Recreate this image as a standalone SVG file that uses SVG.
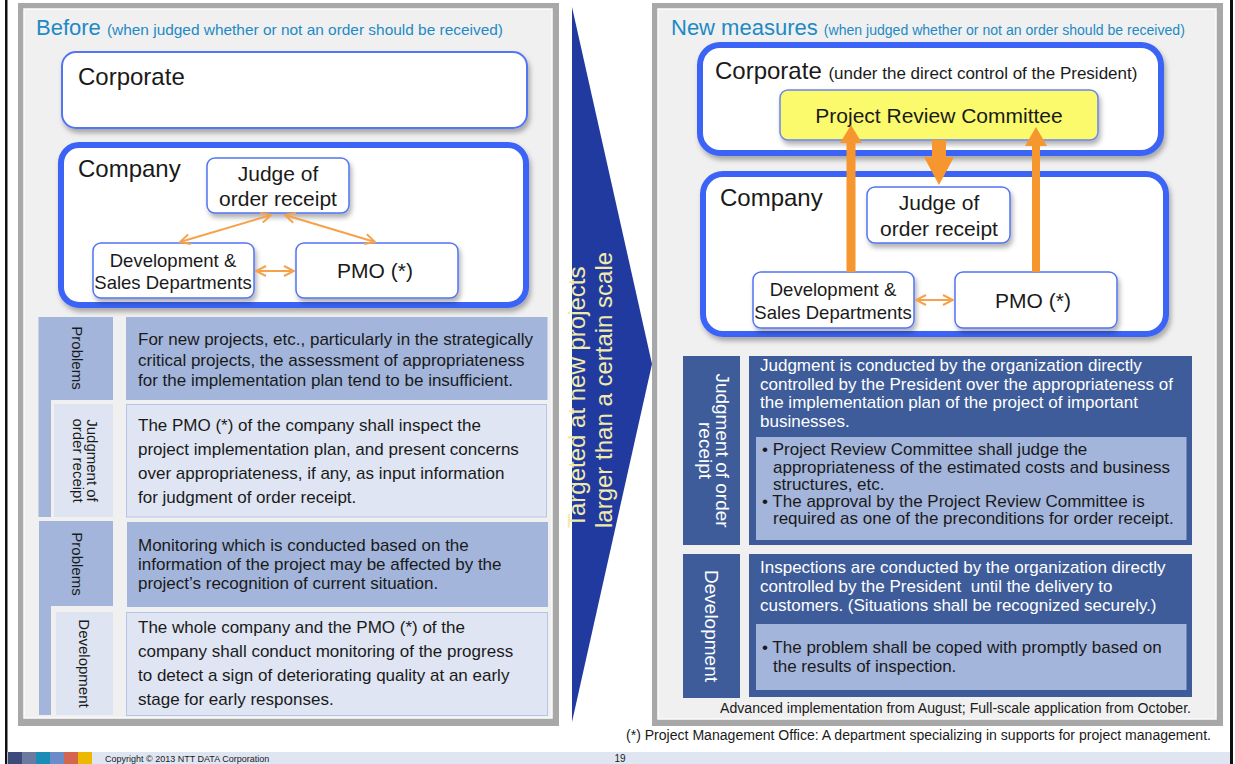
<svg xmlns="http://www.w3.org/2000/svg" width="1235" height="764" viewBox="0 0 1235 764">
  <defs>
    <style>
      text { font-family: "Liberation Sans", Arial, sans-serif; fill: #1a1a1a; }
      .title { fill: #1d8ac5; font-size: 22px; }
      .sub { fill: #1d8ac5; }
      .org { fill: #fff; stroke: #5274f2; stroke-width: 2; }
      .orgThick { fill: #fff; stroke: #3b63f5; stroke-width: 6; }
      .unit { fill: #fff; stroke: #5274f2; stroke-width: 1.5; }
      .head { font-size: 24px; }
      .unitTxt { font-size: 21px; text-anchor: middle; }
      .deptTxt { font-size: 18.5px; text-anchor: middle; }
      .body { font-size: 17px; }
      .tabTxt { font-size: 15px; text-anchor: middle; }
      .tabW { font-size: 19px; text-anchor: middle; fill: #fff; }
      .wTxt { font-size: 17px; fill: #fff; }
      .midBox { fill: #a3b5da; }
      .lightBox { fill: #dfe5f2; stroke: #b5c5e6; stroke-width: 1; }
      .lightTab { fill: #dee4f1; }
      .darkBox { fill: #3e5c99; }
      .innerBox { fill: #a3b5db; }
      .link { fill: none; stroke: #f5a24a; stroke-width: 2; marker-start: url(#vhead); marker-end: url(#vhead); }
      .bold { fill: #f6962e; }
    </style>
    <marker id="vhead" viewBox="0 0 12 12" refX="11" refY="6" markerWidth="12" markerHeight="12" markerUnits="userSpaceOnUse" orient="auto-start-reverse">
      <path d="M1,1 L11,6 L1,11" fill="none" stroke="#f5a24a" stroke-width="2"/>
    </marker>
    <filter id="shadow" x="-5%" y="-10%" width="110%" height="125%">
      <feDropShadow dx="2" dy="4" stdDeviation="2.5" flood-color="#000" flood-opacity="0.3"/>
    </filter>
  </defs>

  <!-- page frame -->
  <rect x="0" y="0" width="1235" height="764" fill="#fff"/>
  <rect x="5" y="0" width="2.5" height="764" fill="#111"/>
  <rect x="1230" y="0" width="3" height="764" fill="#111"/>

  <!-- left panel: current process -->
  <g id="panel-before">
    <rect x="18" y="3" width="541" height="723" fill="#a8a8a8"/>
    <rect x="24" y="9" width="528" height="709" fill="#f0f0f0" stroke="#fbfbfb" stroke-width="1.5"/>
    <text x="36" y="35" class="title">Before <tspan class="sub" font-size="15" textLength="396" lengthAdjust="spacingAndGlyphs">(when judged whether or not an order should be received)</tspan></text>
  </g>

  <g id="before-corporate">
    <rect x="62" y="52" width="465" height="76" rx="14" class="org" filter="url(#shadow)"/>
    <text x="78" y="85" class="head">Corporate</text>
  </g>

  <g id="before-company">
    <rect x="61" y="145" width="465" height="160" rx="18" class="orgThick" filter="url(#shadow)"/>
    <text x="78" y="177" class="head">Company</text>
  </g>

  <g id="before-judge">
    <rect x="207" y="158" width="142" height="55" rx="8" class="unit" filter="url(#shadow)"/>
    <text x="278" y="181" class="unitTxt">Judge of</text>
    <text x="278" y="206" class="unitTxt">order receipt</text>
  </g>

  <g id="before-dev">
    <rect x="93" y="243" width="161" height="55" rx="8" class="unit" filter="url(#shadow)"/>
    <text x="173" y="267" class="deptTxt">Development &amp;</text>
    <text x="173" y="289" class="deptTxt">Sales Departments</text>
  </g>

  <g id="before-pmo">
    <rect x="296" y="243" width="162" height="55" rx="8" class="unit" filter="url(#shadow)"/>
    <text x="375" y="278" class="unitTxt" font-size="21.5">PMO (*)</text>
  </g>

  <!-- left: problem / measure rows -->
  <g id="before-row1">
    <path d="M38.5,317 H113 V400 H51 V517 H38.5 Z" class="midBox"/>
    <rect x="54" y="404" width="59" height="113" class="lightTab"/>
    <rect x="126" y="317" width="421.5" height="83" class="midBox"/>
    <rect x="126.5" y="404.5" width="420" height="112.5" class="lightBox"/>
    <text class="tabTxt" transform="translate(77,358) rotate(90)" y="5">Problems</text>
    <text class="tabTxt" transform="translate(84,460.5) rotate(90)"><tspan x="0" y="-3">Judgment of</tspan><tspan x="0" y="11">order receipt</tspan></text>
    <text class="body"><tspan x="138" y="345">For new projects, etc., particularly in the strategically</tspan><tspan x="138" y="365.5">critical projects, the assessment of appropriateness</tspan><tspan x="138" y="386">for the implementation plan tend to be insufficient.</tspan></text>
    <text class="body"><tspan x="138" y="431">The PMO (*) of the company shall inspect the</tspan><tspan x="138" y="455">project implementation plan, and present concerns</tspan><tspan x="138" y="479">over appropriateness, if any, as input information</tspan><tspan x="138" y="503">for judgment of order receipt.</tspan></text>
  </g>

  <g id="before-row2">
    <path d="M39,521 H113 V606 H51 V715 H39 Z" class="midBox"/>
    <rect x="56" y="612" width="57" height="103" class="lightTab"/>
    <rect x="127" y="522" width="421" height="85" class="midBox"/>
    <rect x="126.5" y="612.5" width="421" height="103" class="lightBox"/>
    <text class="tabTxt" transform="translate(77,564) rotate(90)" y="5">Problems</text>
    <text class="tabTxt" transform="translate(84,663.5) rotate(90)" y="5">Development</text>
    <text class="body"><tspan x="138" y="551">Monitoring which is conducted based on the</tspan><tspan x="138" y="570">information of the project may be affected by the</tspan><tspan x="138" y="589">project’s recognition of current situation.</tspan></text>
    <text class="body"><tspan x="138" y="633">The whole company and the PMO (*) of the</tspan><tspan x="138" y="657">company shall conduct monitoring of the progress</tspan><tspan x="138" y="681">to detect a sign of deteriorating quality at an early</tspan><tspan x="138" y="705">stage for early responses.</tspan></text>
  </g>

  <!-- transition arrow -->
  <g id="scope-arrow">
    <polygon points="572,7 652,364 572,722" fill="#213a9f"/>
    <text transform="translate(585,528) rotate(-90)" font-size="24" style="fill:#f2eaa8"><tspan x="0" y="0">Targeted at new projects</tspan><tspan x="0" y="27">larger than a certain scale</tspan></text>
  </g>

  <!-- right panel: new measures -->
  <g id="panel-new">
    <rect x="652" y="3" width="571" height="723" fill="#a8a8a8"/>
    <rect x="658" y="9" width="558" height="710" fill="#f0f0f0" stroke="#fbfbfb" stroke-width="1.5"/>
    <text x="671" y="35" class="title">New measures <tspan class="sub" font-size="14" textLength="361" lengthAdjust="spacingAndGlyphs">(when judged whether or not an order should be received)</tspan></text>
  </g>

  <g id="new-corporate">
    <rect x="700" y="45" width="461" height="108" rx="20" class="orgThick" filter="url(#shadow)"/>
    <text x="715" y="79" class="head">Corporate <tspan font-size="17">(under the direct control of the President)</tspan></text>
  </g>

  <g id="new-company">
    <rect x="703" y="174" width="463" height="160" rx="20" class="orgThick" filter="url(#shadow)"/>
    <text x="720" y="206" class="head">Company</text>
  </g>

  <g id="review-committee">
    <rect x="780" y="90" width="318" height="50" rx="8" fill="#fbfa6c" stroke="#6a84ee" stroke-width="1.5" filter="url(#shadow)"/>
    <text x="939" y="123" class="unitTxt" font-size="21.5">Project Review Committee</text>
  </g>

  <g id="new-judge">
    <rect x="867" y="187" width="143" height="56" rx="8" class="unit" filter="url(#shadow)"/>
    <text x="939" y="210" class="unitTxt">Judge of</text>
    <text x="939" y="236" class="unitTxt">order receipt</text>
  </g>

  <g id="new-dev">
    <rect x="753" y="272" width="161" height="56" rx="8" class="unit" filter="url(#shadow)"/>
    <text x="833" y="296" class="deptTxt">Development &amp;</text>
    <text x="833" y="318.5" class="deptTxt">Sales Departments</text>
  </g>

  <g id="new-pmo">
    <rect x="955" y="272" width="162" height="56" rx="8" class="unit" filter="url(#shadow)"/>
    <text x="1033" y="308" class="unitTxt" font-size="21.5">PMO (*)</text>
  </g>

  <!-- connectors -->
  <g id="connectors">
    <line x1="271" y1="215" x2="180" y2="242" class="link"/>
    <line x1="285" y1="215" x2="375" y2="242" class="link"/>
    <line x1="256" y1="271" x2="294" y2="271" class="link"/>
    <line x1="916" y1="300" x2="953" y2="300" class="link"/>
    <polygon class="bold" points="846.5,272 846.5,143 840,143 851,125 862,143 855.5,143 855.5,272"/>
    <polygon class="bold" points="1032,272 1032,146 1025,146 1036,127 1047,146 1040,146 1040,272"/>
    <polygon class="bold" points="932,140 946,140 946,157 954,157 939,185 924,157 932,157"/>
  </g>

  <!-- right: judgment / development rows -->
  <g id="new-row1">
    <rect x="683" y="356" width="57" height="189" class="darkBox"/>
    <rect x="749" y="356" width="443" height="189" class="darkBox"/>
    <rect x="756" y="437" width="430.5" height="103" class="innerBox"/>
    <text class="tabW" transform="translate(711,450.5) rotate(90)"><tspan x="0" y="-5">Judgment of order</tspan><tspan x="0" y="12">receipt</tspan></text>
    <text class="wTxt"><tspan x="760" y="371">Judgment is conducted by the organization directly</tspan><tspan x="760" y="389.5">controlled by the President over the appropriateness of</tspan><tspan x="760" y="408">the implementation plan of the project of important</tspan><tspan x="760" y="427">businesses.</tspan></text>
    <text class="body"><tspan x="762" y="455">• Project Review Committee shall judge the</tspan><tspan x="773" y="473">appropriateness of the estimated costs and business</tspan><tspan x="773" y="490">structures, etc.</tspan><tspan x="762" y="507">• The approval by the Project Review Committee is</tspan><tspan x="773" y="524">required as one of the preconditions for order receipt.</tspan></text>
  </g>

  <g id="new-row2">
    <rect x="683" y="554" width="57" height="144" class="darkBox"/>
    <rect x="749" y="554" width="443" height="143" class="darkBox"/>
    <rect x="756" y="624" width="430.5" height="66" class="innerBox"/>
    <text class="tabW" transform="translate(711,626) rotate(90)" y="6">Development</text>
    <text class="wTxt"><tspan x="760" y="573">Inspections are conducted by the organization directly</tspan><tspan x="760" y="592">controlled by the President&#160; until the delivery to</tspan><tspan x="760" y="611">customers. (Situations shall be recognized securely.)</tspan></text>
    <text class="body"><tspan x="762" y="653">• The problem shall be coped with promptly based on</tspan><tspan x="773" y="672">the results of inspection.</tspan></text>
  </g>

  <!-- notes -->
  <g id="notes">
    <text x="1191" y="713" font-size="14" text-anchor="end" textLength="471" lengthAdjust="spacingAndGlyphs">Advanced implementation from August; Full-scale application from October.</text>
    <text x="626" y="740" font-size="14" textLength="585" lengthAdjust="spacingAndGlyphs">(*) Project Management Office: A department specializing in supports for project management.</text>
  </g>

  <!-- footer band -->
  <g id="footer">
    <rect x="7.5" y="752" width="1222.5" height="12" fill="#dfe6f2"/>
    <rect x="8" y="752" width="14" height="12" fill="#3d4a7c"/>
    <rect x="22" y="752" width="14" height="12" fill="#6b7a9e"/>
    <rect x="36" y="752" width="14" height="12" fill="#1a8cb8"/>
    <rect x="50" y="752" width="14" height="12" fill="#6a8cc8"/>
    <rect x="64" y="752" width="14" height="12" fill="#d4664f"/>
    <rect x="78" y="752" width="14" height="12" fill="#ecb800"/>
    <text x="105" y="762" font-size="9" fill="#333">Copyright © 2013 NTT DATA Corporation</text>
    <text x="620" y="762" font-size="10" text-anchor="middle" fill="#333">19</text>
  </g>
</svg>
